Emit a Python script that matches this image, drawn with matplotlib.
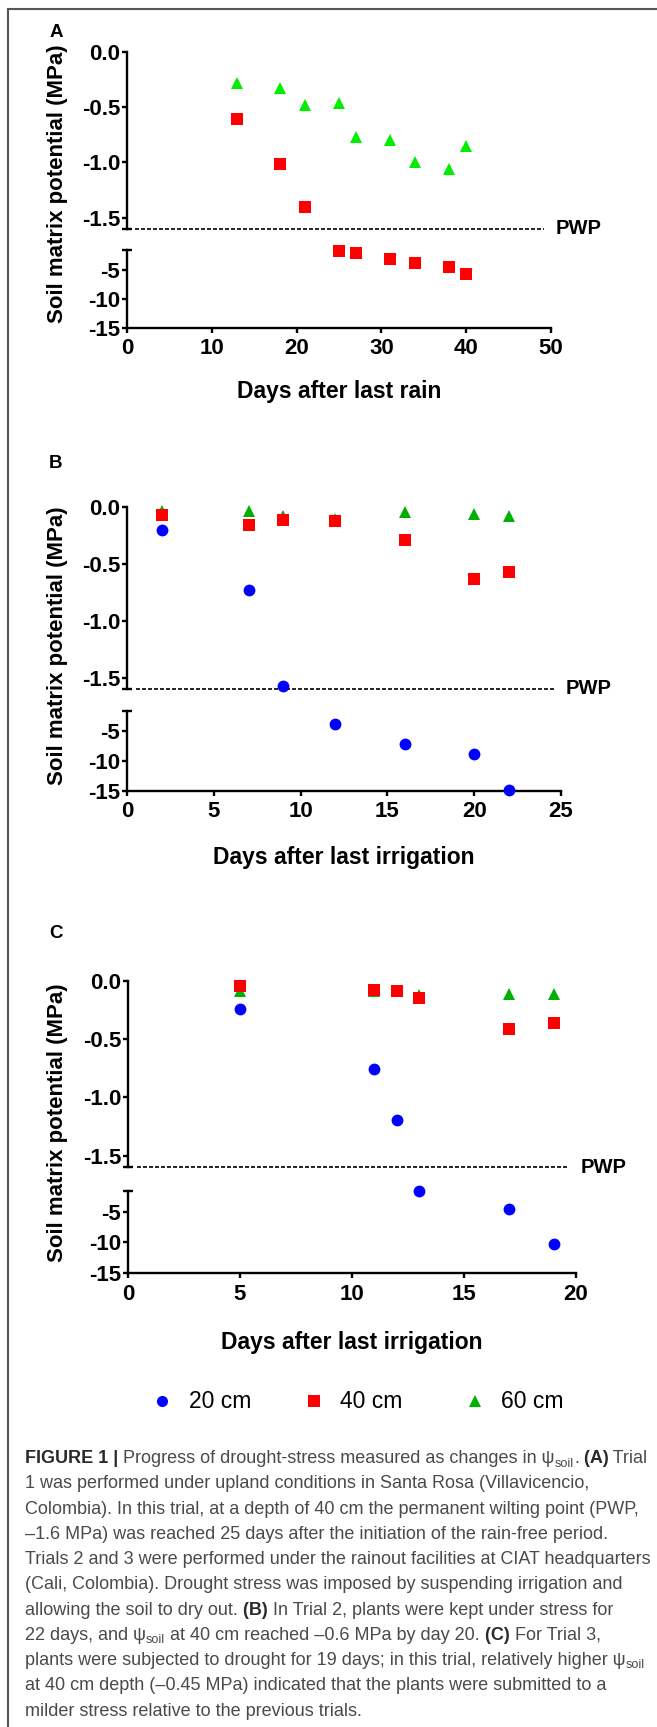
import matplotlib
matplotlib.use("Agg")
import matplotlib.pyplot as plt
from matplotlib import font_manager

W, H = 657, 1727

# ---- data (soil water potential, MPa) ----
a_days_40 = [13, 18, 21, 25, 27, 31, 34, 38, 40]
a_psi_40 = [-0.61, -1.01, -1.40, -1.7, -2.2, -3.1, -3.8, -4.6, -5.7]
a_days_60 = [13, 18, 21, 25, 27, 31, 34, 38, 40]
a_psi_60 = [-0.28, -0.33, -0.48, -0.46, -0.77, -0.80, -1.00, -1.06, -0.85]

b_days = [2, 7, 9, 12, 16, 20, 22]
b_psi_20 = [-0.20, -0.73, -1.57, -3.9, -7.2, -8.9, -14.9]
b_psi_40 = [-0.07, -0.16, -0.11, -0.12, -0.29, -0.63, -0.57]
b_psi_60 = [-0.03, -0.03, -0.08, -0.10, -0.045, -0.06, -0.075]

c_days_20 = [5, 11, 12, 13, 17, 19]
c_psi_20 = [-0.24, -0.76, -1.19, -1.7, -4.55, -10.2]
c_days_40 = [5, 11, 12, 13, 17, 19]
c_psi_40 = [-0.04, -0.08, -0.09, -0.15, -0.41, -0.36]
c_days_60 = [5, 11, 13, 17, 19]
c_psi_60 = [-0.09, -0.09, -0.12, -0.11, -0.11]

upper_ticks = [0.0, -0.5, -1.0, -1.5]
upper_labels = ["0.0", "-0.5", "-1.0", "-1.5"]
lower_ticks = [-5, -10, -15]
lower_labels = ["-5", "-10", "-15"]
legend_labels = ["20 cm", "40 cm", "60 cm"]
PWP = -1.6

BLUE, RED = "#0000ff", "#ff0000"
LIME, GREEN = "#00ee00", "#00b000"

plt.rcParams["font.family"] = ["Liberation Sans", "DejaVu Sans"]
names = {f.name for f in font_manager.fontManager.ttflist}
narrow = "Liberation Sans Narrow" in names
CAP_FONT = ["Liberation Sans Narrow", "Liberation Sans", "DejaVu Sans"] if narrow \
    else ["Liberation Sans", "DejaVu Sans"]
CAP_SIZE = 15 if narrow else 13


def frac(l, t, r, b):
    return [l / W, 1 - b / H, (r - l) / W, (b - t) / H]


fig = plt.figure(figsize=(W / 100, H / 100), dpi=100)
ov = fig.add_axes([0, 0, 1, 1], zorder=-1)
ov.set_xlim(0, W)
ov.set_ylim(H, 0)
ov.axis("off")

# outer frame (top + left)
ov.plot([8, W], [9, 9], color="#555555", lw=1.5, clip_on=False)
ov.plot([8, 8], [9, H], color="#555555", lw=1.5, clip_on=False)


def style_axis(ax, xmax):
    ax.set_xlim(0, xmax)
    ax.patch.set_visible(False)
    for s in ("top", "right"):
        ax.spines[s].set_visible(False)
    for s in ("left", "bottom"):
        ax.spines[s].set_linewidth(1.7)
    ax.tick_params(axis="both", which="major", direction="out", length=3.5,
                   width=1.7, labelsize=16)
    ax.tick_params(axis="y", which="major", pad=1.5)
    ax.tick_params(axis="x", which="major", pad=4)
    ax.tick_params(axis="y", which="minor", direction="inout", length=7, width=1.7)
    for lab in ax.get_yticklabels() + ax.get_xticklabels():
        lab.set_fontweight("bold")


def draw_panel(l, r, ut, ub, lt, lb, xmax, xstep, letter, letter_y, xlabel,
               ylabel_y, xlabel_y, series):
    up = fig.add_axes(frac(l, ut, r, ub))
    lo = fig.add_axes(frac(l, lt, r, lb))
    up.set_ylim(PWP, 0)
    lo.set_ylim(-15, PWP)
    up.set_yticks(upper_ticks, upper_labels)
    lo.set_yticks(lower_ticks, lower_labels)
    up.set_yticks([PWP], minor=True)
    lo.set_yticks([PWP], minor=True)
    lo.set_xticks(range(0, xmax + 1, xstep))
    up.spines["bottom"].set_visible(False)
    up.tick_params(axis="x", bottom=False, labelbottom=False)
    style_axis(up, xmax)
    style_axis(lo, xmax)

    for days, vals, color, marker, ms in series:
        hi = [(d, v) for d, v in zip(days, vals) if v > PWP]
        low = [(d, v) for d, v in zip(days, vals) if v <= PWP]
        for ax, pts in ((up, hi), (lo, low)):
            if pts:
                ax.plot([p[0] for p in pts], [p[1] for p in pts], ls="none",
                        marker=marker, color=color, ms=ms, mew=0,
                        clip_on=False, zorder=5)

    up.plot([0.02, 0.984], [PWP, PWP], transform=up.get_yaxis_transform(),
            color="black", lw=1.2, ls=(0, (2.4, 1.2)), clip_on=False)
    up.text(1.01, PWP, "PWP", transform=up.get_yaxis_transform(),
            ha="left", va="center", fontsize=14.5, fontweight="bold")

    ov.text(56, letter_y, letter, ha="center", va="center", fontsize=13.5,
            fontweight="bold")
    ov.text(58, ylabel_y, "Soil matrix potential (MPa)", rotation=90,
            ha="center", va="center", fontsize=16, fontweight="bold")
    ov.text((l + r) / 2, xlabel_y, xlabel, ha="center", va="center",
            fontsize=16.5, fontweight="bold")


draw_panel(127, 551, 51.5, 229, 250, 328, 50, 10, "A", 32, "Days after last rain",
           184, 391,
           [(a_days_60, a_psi_60, LIME, "^", 8),
            (a_days_40, a_psi_40, RED, "s", 8)])

draw_panel(127, 561, 507.3, 689, 710.7, 790.7, 25, 5, "B", 463,
           "Days after last irrigation", 646, 857,
           [(b_days, b_psi_60, GREEN, "^", 8),
            (b_days, b_psi_40, RED, "s", 8),
            (b_days, b_psi_20, BLUE, "o", 8.5)])

draw_panel(128, 576, 981, 1167.3, 1190.7, 1273.3, 20, 5, "C", 933,
           "Days after last irrigation", 1123, 1342,
           [(c_days_60, c_psi_60, GREEN, "^", 8),
            (c_days_40, c_psi_40, RED, "s", 8),
            (c_days_20, c_psi_20, BLUE, "o", 8.5)])

# legend
for mx, tx, color, marker, lab in ((162, 189, BLUE, "o", legend_labels[0]),
                                   (314, 340, RED, "s", legend_labels[1]),
                                   (475, 501, GREEN, "^", legend_labels[2])):
    ov.plot([mx], [1401], ls="none", marker=marker, color=color, ms=8, mew=0)
    ov.text(tx, 1402, lab, ha="left", va="center", fontsize=16.5)

# caption
caption = [
    [("FIGURE 1 |", "b"), (" Progress of drought-stress measured as changes in ψ", "r"),
     ("soil", "s"), (".", "r"), (" (A)", "b"), (" Trial", "r")],
    [("1 was performed under upland conditions in Santa Rosa (Villavicencio,", "r")],
    [("Colombia). In this trial, at a depth of 40 cm the permanent wilting point (PWP,", "r")],
    [("–1.6 MPa) was reached 25 days after the initiation of the rain-free period.", "r")],
    [("Trials 2 and 3 were performed under the rainout facilities at CIAT headquarters", "r")],
    [("(Cali, Colombia). Drought stress was imposed by suspending irrigation and", "r")],
    [("allowing the soil to dry out.", "r"), (" (B)", "b"),
     (" In Trial 2, plants were kept under stress for", "r")],
    [("22 days, and ψ", "r"), ("soil", "s"), (" at 40 cm reached –0.6 MPa by day 20.", "r"),
     (" (C)", "b"), (" For Trial 3,", "r")],
    [("plants were subjected to drought for 19 days; in this trial, relatively higher ψ", "r"),
     ("soil", "s")],
    [("at 40 cm depth (–0.45 MPa) indicated that the plants were submitted to a", "r")],
    [("milder stress relative to the previous trials.", "r")],
]
cap_y = [1456.7, 1481.7, 1507.3, 1532.7, 1557.7, 1582.7, 1608.3, 1633.3,
         1658.3, 1684, 1709.3]

renderer = fig.canvas.get_renderer()
for y, pieces in zip(cap_y, caption):
    x = 25
    for txt, st in pieces:
        kw = dict(fontsize=CAP_SIZE, color="#4a4a4a", va="baseline", ha="left",
                  family=CAP_FONT)
        dy = 6.5
        if st == "b":
            kw.update(fontweight="bold", color="#2a2a2a")
        elif st == "s":
            kw.update(fontsize=CAP_SIZE * 0.7)
            dy = 10
        t = ov.text(x, y + dy, txt, **kw)
        x += t.get_window_extent(renderer).width

fig.savefig("out.png", dpi=100)
